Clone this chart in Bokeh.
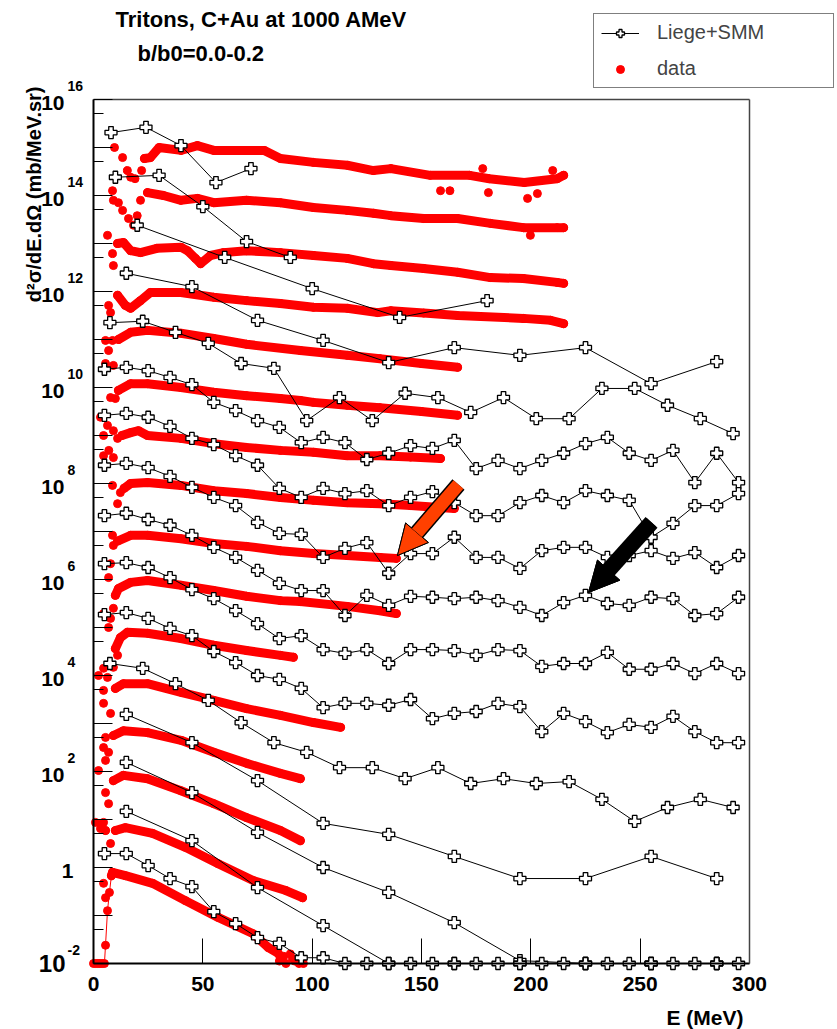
import numpy as np
from bokeh.plotting import figure
from bokeh.models import (Range1d, FixedTicker, Legend, LegendItem, Arrow, NormalHead,
                          CustomJSTickFormatter, LinearAxis, LogAxis)
from bokeh.core.properties import value
from bokeh.embed import file_html
from bokeh.resources import INLINE

FONT = "Liberation Sans"

# ---------------- axis ticks ----------------
x_ticks = [0, 50, 100, 150, 200, 250, 300]
y_decades = list(range(-2, 17))
y_label_exps = [16, 14, 12, 10, 8, 6, 4, 2]

# ---------------- Liege+SMM model curves (E in MeV, log10 of d2sigma) ----------------
E10 = [5, 15, 25, 35, 45, 55, 65, 75, 85, 95, 105, 115, 125, 135, 145, 155, 165, 175, 185, 195,
       205, 215, 225, 235, 245, 255, 265, 275, 285, 295]
E15 = [7.5, 22.5, 37.5, 52.5, 67.5, 82.5, 97.5, 112.5, 127.5, 142.5, 157.5, 172.5, 187.5, 202.5,
       217.5, 232.5, 247.5, 262.5, 277.5, 292.5]
E30 = [15, 45, 75, 105, 135, 165, 195, 225, 255, 285]
m01_E = [8, 24, 40, 56, 72]
m02_E = [10, 30, 50, 70, 90]
m03_E = [20, 60, 100, 140, 180]

m01_log = [15.31, 15.42, 15.04, 14.27, 14.56]
m02_log = [14.38, 14.42, 13.77, 13.04, 12.71]
m03_log = [13.38, 12.71, 12.06, 11.46, 11.81]
m04_log = [12.38, 12.10, 11.40, 10.98, 10.52, 10.83, 10.67, 10.83, 10.08, 10.54]
m05_log = [11.35, 11.38, 11.15, 10.92, 10.50, 10.40, 9.31, 9.79, 9.31, 9.88, 9.79, 9.48, 9.79,
           9.35, 9.35, 9.98, 9.98, 9.63, 9.35, 9.04]
m06_log = [10.38, 10.42, 10.35, 10.21, 10.06, 9.69, 9.52, 9.31, 9.17, 8.85, 8.96, 8.85, 8.50,
           8.63, 8.79, 8.73, 8.90, 8.31, 8.48, 8.31, 8.48, 8.63, 8.83, 8.96, 8.63, 8.48, 8.69,
           8.02, 8.63, 8.02]
m07_log = [9.42, 9.46, 9.38, 9.19, 8.94, 8.81, 8.58, 8.38, 7.90, 7.71, 7.90, 7.79, 7.85, 7.54,
           7.71, 7.83, 7.60, 7.33, 7.33, 7.60, 7.75, 7.60, 7.85, 7.75, 7.65, 6.88, 7.17, 7.54,
           7.54, 7.79]
m08_log = [8.38, 8.42, 8.33, 8.15, 7.92, 7.71, 7.54, 7.19, 6.96, 6.94, 6.46, 6.65, 6.77, 6.13,
           6.54, 6.54, 6.88, 6.46, 6.46, 6.23, 6.60, 6.67, 6.67, 6.46, 6.50, 6.60, 6.44, 6.56,
           6.25, 6.50]
m09_log = [7.33, 7.38, 7.25, 7.13, 6.92, 6.67, 6.46, 6.19, 5.92, 5.77, 5.77, 5.25, 5.67, 5.46,
           5.65, 5.63, 5.60, 5.63, 5.56, 5.42, 5.25, 5.52, 5.67, 5.50, 5.46, 5.63, 5.60, 5.25,
           5.29, 5.63]
m10_log = [6.33, 6.35, 6.25, 6.04, 5.79, 5.60, 5.35, 5.08, 4.77, 4.83, 4.54, 4.46, 4.54, 4.25,
           4.54, 4.54, 4.52, 4.42, 4.54, 4.52, 4.19, 4.25, 4.25, 4.48, 4.13, 4.13, 4.25, 4.04,
           4.25, 4.04]
m11_log = [5.27, 5.31, 5.19, 4.98, 4.83, 4.50, 4.27, 4.00, 3.92, 3.73, 3.33, 3.42, 3.42, 3.38,
           3.50, 3.10, 3.21, 3.25, 3.42, 3.35, 2.83, 3.21, 3.04, 2.81, 2.98, 2.92, 3.15, 2.83,
           2.60, 2.60]
m12_log = [4.25, 4.15, 3.83, 3.48, 3.02, 2.60, 2.40, 2.08, 2.08, 1.85, 2.08, 1.75, 1.85, 1.75,
           1.79, 1.42, 0.96, 1.25, 1.42, 1.25]
m13_log = [3.19, 2.60, 1.81, 0.92, 0.69, 0.23, -0.23, -0.23, 0.23, -0.23]
m14_log = [2.19, 1.56, 0.73, 0.00, -0.52, -1.15, -1.94, -2.0, -2.0, -2.0]
m15_log = [1.17, 0.56, -0.42, -1.21, -2.0, -2.0, -2.0, -2.0, -2.0, -2.0]
m16_log = [0.29, 0.29, 0.04, -0.23, -0.40, -0.92, -1.17, -1.46, -1.58, -1.88, -1.88, -2.0, -2.0,
           -2.0, -2.0, -2.0, -2.0, -2.0, -2.0, -2.0, -2.0, -2.0, -2.0, -2.0, -2.0, -2.0, -2.0,
           -2.0, -2.0, -2.0]

# ---------------- data (red): scattered low-energy / outlier points and main band ----------------
d01_hook_E = [9.6, 13.3, 15.5, 17.0, 19.0, 22.0, 158.7, 163.0, 180.6, 198.5, 203.0, 178.0, 210.0]
d01_hook_log = [15.0, 14.79, 14.52, 14.38, 14.35, 14.52, 14.10, 14.10, 14.06, 13.94, 14.04, 14.56, 14.52]
d01_E = [23.3, 26, 30, 40, 47.5, 55, 67, 78, 85.5, 100.6, 116, 128, 136, 154, 172, 181, 197, 212, 215]
d01_log = [14.77, 14.79, 15.0, 14.94, 15.04, 14.94, 14.94, 14.94, 14.77, 14.69, 14.63, 14.52, 14.56,
           14.42, 14.42, 14.35, 14.27, 14.35, 14.42]

d02_hook_E = [8.7, 9.1, 11.4, 13.3, 16.0, 18.3, 20.0, 21.5, 199.8]
d02_hook_log = [14.10, 13.90, 13.85, 13.69, 13.52, 13.38, 13.58, 13.90, 13.17]
d02_E = [24.7, 32, 40, 47.5, 55, 70, 85.5, 100.6, 116, 128, 136, 151, 166.5, 181.5, 196.6, 212, 215]
d02_log = [14.06, 14.0, 13.9, 13.94, 13.85, 13.9, 13.85, 13.75, 13.69, 13.63, 13.58, 13.52, 13.52,
           13.42, 13.33, 13.33, 13.33]

d03_hook_E = [6.4, 8.7, 9.1]
d03_hook_log = [13.17, 12.79, 12.54]
d03_E = [11, 13.7, 17, 21.5, 29, 40, 43, 46.6, 49, 53.5, 59.4, 70, 85.5, 100.6, 116, 128, 136, 151,
         166.5, 181.5, 196.6, 212, 215]
d03_log = [13.0, 13.02, 12.85, 12.81, 12.90, 12.92, 12.85, 12.69, 12.58, 12.75, 12.81, 12.85, 12.81,
           12.75, 12.69, 12.58, 12.54, 12.48, 12.40, 12.29, 12.27, 12.19, 12.17]

d04_hook_E = [6.9, 7.8]
d04_hook_log = [11.71, 11.56]
d04_E = [11, 14.6, 17, 21.5, 26, 40, 55, 70, 85.5, 100.6, 116, 130, 136, 151, 166.5, 196.6, 209, 215]
d04_log = [11.92, 11.71, 11.65, 11.81, 11.98, 11.98, 11.88, 11.81, 11.75, 11.67, 11.65, 11.56, 11.60,
           11.55, 11.50, 11.44, 11.40, 11.33]

d05_hook_E = [5.5, 8.7, 6.9, 5.5, 9.1]
d05_hook_log = [10.98, 10.98, 10.77, 10.50, 10.46]
d05_E = [11.4, 17, 24.7, 40, 55, 70, 94.6, 116, 131, 150, 166.5]
d05_log = [11.0, 11.15, 11.19, 11.13, 11.02, 10.90, 10.77, 10.67, 10.60, 10.50, 10.42]

d06_hook_E = [7.8, 10.0]
d06_hook_log = [9.79, 9.77]
d06_E = [11.4, 17, 24.7, 40, 55, 70, 85.5, 94.6, 100.6, 116, 131, 150, 166.5]
d06_log = [9.94, 10.08, 10.08, 10.0, 9.90, 9.83, 9.77, 9.73, 9.69, 9.63, 9.58, 9.50, 9.42]

d07_hook_E = [3.2, 6.4, 4.6, 9.1, 11.0]
d07_hook_log = [9.38, 9.21, 9.0, 9.10, 8.94]
d07_E = [13, 17, 20.6, 24.7, 40, 55, 70, 85.5, 100.6, 116, 131, 145, 158.7]
d07_log = [9.0, 9.06, 9.10, 9.0, 8.94, 8.83, 8.75, 8.69, 8.65, 8.58, 8.58, 8.55, 8.52]

d08_hook_E = [4.6, 7.0, 9.1, 8.7, 11.0, 12.3]
d08_hook_log = [8.58, 8.69, 8.54, 7.96, 7.58, 7.81]
d08_E = [14, 17, 24.7, 40, 55, 70, 85.5, 100.6, 116, 131, 145, 165]
d08_log = [7.90, 8.0, 8.02, 7.96, 7.85, 7.79, 7.71, 7.65, 7.60, 7.58, 7.54, 7.48]

d09_hook_E = [6.9, 7.8, 8.7, 9.1]
d09_hook_log = [6.04, 6.33, 6.92, 6.71]
d09_E = [11, 17, 24.7, 40, 55, 70, 85.5, 100.6, 116, 131, 138.5]
d09_log = [6.80, 6.92, 6.92, 6.85, 6.75, 6.69, 6.60, 6.54, 6.50, 6.46, 6.44]

d10_hook_E = [4.6, 7.8, 9.1, 6.9]
d10_hook_log = [5.29, 5.19, 5.40, 5.0]
d10_E = [10, 11.4, 17, 24.7, 40, 55, 70, 85.5, 94.6, 116, 131, 138.5]
d10_log = [5.67, 5.81, 5.94, 5.98, 5.88, 5.77, 5.65, 5.56, 5.54, 5.44, 5.35, 5.29]

d11_hook_E = [9.1, 11.0]
d11_hook_log = [4.17, 4.42]
d11_E = [10, 12.3, 15.5, 24.7, 40, 55, 70, 85.5, 91.4]
d11_log = [4.56, 4.79, 4.90, 4.88, 4.77, 4.63, 4.52, 4.42, 4.38]

d12_hook_E = [2.3, 4.6, 6.4, 4.6, 4.6, 7.8]
d12_hook_log = [4.0, 4.15, 3.96, 3.69, 3.42, 3.21]
d12_E = [10, 13.7, 24.7, 40, 55, 70, 85.5, 100.6, 113]
d12_log = [3.73, 3.83, 3.83, 3.65, 3.48, 3.31, 3.17, 3.02, 2.92]

d13_hook_E = [5.5, 4.6, 6.9, 5.5, 2.3]
d13_hook_log = [2.71, 2.50, 2.40, 2.23, 2.02]
d13_E = [9.1, 13.7, 24.7, 40, 55, 70, 85.5, 94.6]
d13_log = [2.75, 2.85, 2.81, 2.65, 2.40, 2.17, 1.96, 1.85]

d14_hook_E = [5.5, 6.9, 4.6, 5.5]
d14_hook_log = [1.56, 1.33, 0.94, 0.77]
d14_E = [9.1, 13.7, 24.7, 40, 55, 70, 85.5, 94.6]
d14_log = [1.81, 1.92, 1.85, 1.60, 1.33, 1.04, 0.77, 0.56]

d15_hook_E = [4.1, 5.5, 7.8, 0.9, 3.2]
d15_hook_log = [0.92, 0.77, 0.50, 0.94, 0.81]
d15_E = [10, 14.6, 27, 42, 57, 73, 88, 95.6]
d15_log = [0.77, 0.83, 0.71, 0.42, 0.08, -0.27, -0.48, -0.63]

d16_rise_E = [0.0, 1.0, 2.0, 3.0, 4.0, 5.0, 5.5, 6.4, 7.3]
d16_rise_log = [-2.0, -2.0, -2.0, -2.0, -2.0, -2.0, -1.62, -0.90, -0.52]
d16_hook_E = [4.6, 5.5, 85, 87, 88, 90, 91, 92, 94, 96]
d16_hook_log = [-0.33, -0.63, -1.95, -1.85, -2.0, -1.8, -1.9, -1.95, -2.0, -2.0]
d16_E = [8.2, 8.7, 14.6, 27, 42, 57, 73, 80, 84.5, 86]
d16_log = [-0.17, -0.10, -0.17, -0.33, -0.69, -1.04, -1.38, -1.67, -1.79, -1.90]

model_series = [
    (m01_E, m01_log), (m02_E, m02_log), (m03_E, m03_log), (E30, m04_log), (E15, m05_log),
    (E10, m06_log), (E10, m07_log), (E10, m08_log), (E10, m09_log), (E10, m10_log),
    (E10, m11_log), (E15, m12_log), (E30, m13_log), (E30, m14_log), (E30, m15_log),
    (E10, m16_log),
]
data_series = [
    (d01_hook_E, d01_hook_log, d01_E, d01_log), (d02_hook_E, d02_hook_log, d02_E, d02_log),
    (d03_hook_E, d03_hook_log, d03_E, d03_log), (d04_hook_E, d04_hook_log, d04_E, d04_log),
    (d05_hook_E, d05_hook_log, d05_E, d05_log), (d06_hook_E, d06_hook_log, d06_E, d06_log),
    (d07_hook_E, d07_hook_log, d07_E, d07_log), (d08_hook_E, d08_hook_log, d08_E, d08_log),
    (d09_hook_E, d09_hook_log, d09_E, d09_log), (d10_hook_E, d10_hook_log, d10_E, d10_log),
    (d11_hook_E, d11_hook_log, d11_E, d11_log), (d12_hook_E, d12_hook_log, d12_E, d12_log),
    (d13_hook_E, d13_hook_log, d13_E, d13_log), (d14_hook_E, d14_hook_log, d14_E, d14_log),
    (d15_hook_E, d15_hook_log, d15_E, d15_log), (d16_hook_E, d16_hook_log, d16_E, d16_log),
]


def val(logs):
    return list(10.0 ** np.array(logs, dtype=float))


# The frame fills the whole canvas; these helpers place decorations (texts, arrows, legend)
# at page-pixel positions.  The data area spans E 0..300 and 1e-2..1e16.
W, H = 837, 1029
X0, X1, YB, YT = 93.0, 749.0, 963.0, 99.0


def px2x(px):
    return (px - X0) * 300.0 / (X1 - X0)


def py2y(py):
    return 10.0 ** ((YB - py) * 18.0 / (YB - YT) - 2.0)


p = figure(width=W, height=H, x_range=Range1d(px2x(0), px2x(W)),
           y_range=Range1d(py2y(H), py2y(0)), y_axis_type="log",
           x_axis_location=None, y_axis_location=None,
           output_backend="svg", toolbar_location=None,
           min_border=0, min_border_left=0, min_border_right=0, min_border_top=0,
           min_border_bottom=0)
p.grid.visible = False
p.outline_line_color = None
p.background_fill_color = "white"
p.border_fill_color = "white"

blank = CustomJSTickFormatter(code="return ''")
common = dict(major_label_standoff=0, major_label_text_font_size="0px", axis_label=None,
              major_tick_out=0, minor_tick_out=0)

xaxis = LinearAxis(fixed_location=1e-2, bounds=(0, 300),
                   ticker=FixedTicker(ticks=x_ticks, minor_ticks=[]), formatter=blank,
                   major_tick_in=25, minor_tick_in=0, axis_line_width=2, **common)
p.add_layout(xaxis, "below")
yaxis = LogAxis(fixed_location=0, bounds=(1e-2, 1e16),
                ticker=FixedTicker(ticks=[10.0 ** n for n in y_decades],
                                   minor_ticks=[5 * 10.0 ** n for n in y_decades[:-1]]),
                formatter=blank, major_tick_in=19, minor_tick_in=10, axis_line_width=2, **common)
p.add_layout(yaxis, "left")
topaxis = LinearAxis(fixed_location=1e16, bounds=(0, 300), ticker=FixedTicker(ticks=[]),
                     formatter=blank, major_tick_in=0, minor_tick_in=0,
                     axis_line_color="#444444", axis_line_width=1.5, **common)
p.add_layout(topaxis, "above")
rightaxis = LogAxis(fixed_location=300, bounds=(1e-2, 1e16), ticker=FixedTicker(ticks=[]),
                    formatter=blank, major_tick_in=0, minor_tick_in=0,
                    axis_line_color="#444444", axis_line_width=1.5, **common)
p.add_layout(rightaxis, "right")

# ---- data bands (drawn first) ----
data_renderers = []
for (hE, hL, bE, bL) in data_series:
    p.line(bE, val(bL), line_color="red", line_width=9, line_join="round", line_cap="round")
    r = p.scatter(hE + bE, val(hL + bL), marker="circle", size=8, fill_color="red",
                  line_color="red")
    data_renderers.append(r)
p.line(d16_rise_E + d16_E, val(d16_rise_log + d16_log), line_color="red", line_width=1)
p.scatter(d16_rise_E, val(d16_rise_log), marker="circle", size=8, fill_color="red", line_color="red")

# ---- model curves ----
model_line_r = None
model_mark_r = None
for (E, L) in model_series:
    lr = p.line(E, val(L), line_color="black", line_width=1)
    mr = p.scatter(E, val(L), marker="plus", size=12, fill_color="white", line_color="black",
                   line_width=1.3)
    if model_line_r is None:
        model_line_r, model_mark_r = lr, mr

# ---- arrows ----
red_arrow = (166.9, 10 ** 7.98, 139.0, 10 ** 6.50)
black_arrow = (255.2, 10 ** 7.19, 226.4, 10 ** 5.73)
for (xs, ys, xe, ye), col in [(red_arrow, "#ff4000"), (black_arrow, "black")]:
    p.add_layout(Arrow(end=NormalHead(size=30, fill_color="black", line_color="black"),
                       x_start=xs, y_start=ys, x_end=xe, y_end=ye,
                       line_color="black", line_width=16))
    p.add_layout(Arrow(end=NormalHead(size=30, fill_color=col, line_color="black", line_width=1),
                       x_start=xs, y_start=ys, x_end=xe, y_end=ye,
                       line_color=col, line_width=13))


def txt(xs, ys, texts, size, align="left", baseline="middle", angle=0.0):
    p.text(x=xs, y=ys, text=texts, text_font=value(FONT), text_font_style="bold",
           text_font_size=value(size), text_align=align, text_baseline=baseline,
           text_color="black", angle=angle)


# ---- y tick labels (10 with superscript exponent) ----
tick_py = [YB - (n + 2) * (YB - YT) / 18.0 for n in y_label_exps]
txt([px2x(64)] * len(y_label_exps), [py2y(t + 3) for t in tick_py], ["10"] * len(y_label_exps),
    "21px", align="right")
txt([px2x(67)] * len(y_label_exps), [py2y(t - 14) for t in tick_py],
    [str(n) for n in y_label_exps], "14px")
txt([px2x(73)], [py2y(870)], ["1"], "21px", align="right")
txt([px2x(65)], [py2y(963)], ["10"], "24px", align="right")
txt([px2x(67)], [py2y(949)], ["-2"], "14px")

# ---- x tick labels ----
txt(x_ticks, [py2y(983)] * len(x_ticks), [str(t) for t in x_ticks], "21px", align="center")

# ---- axis titles ----
txt([px2x(743)], [py2y(1017)], ["E (MeV)"], "21px", align="right")
txt([px2x(33)], [py2y(86)], ["d\u00b2\u03c3/dE.d\u03a9 (mb/MeV.sr)"], "20px", align="right",
    angle=np.pi / 2)

# ---- titles ----
txt([px2x(115)], [py2y(19)], ["Tritons, C+Au at 1000 AMeV"], "22px")
txt([px2x(137)], [py2y(53)], ["b/b0=0.0-0.2"], "22px")

# ---- legend ----
legend = Legend(items=[LegendItem(label="Liege+SMM", renderers=[model_line_r, model_mark_r]),
                       LegendItem(label="data", renderers=[data_renderers[0]])],
                location=(593, H - 88), orientation="vertical", glyph_width=38, glyph_height=20,
                label_standoff=18, spacing=13, padding=7, margin=0, label_width=169,
                label_height=22, border_line_color="black", border_line_width=1,
                background_fill_color="white", background_fill_alpha=1,
                label_text_font=FONT, label_text_font_size="20px")
p.add_layout(legend)

open("out.html", "w").write(file_html(p, INLINE))
